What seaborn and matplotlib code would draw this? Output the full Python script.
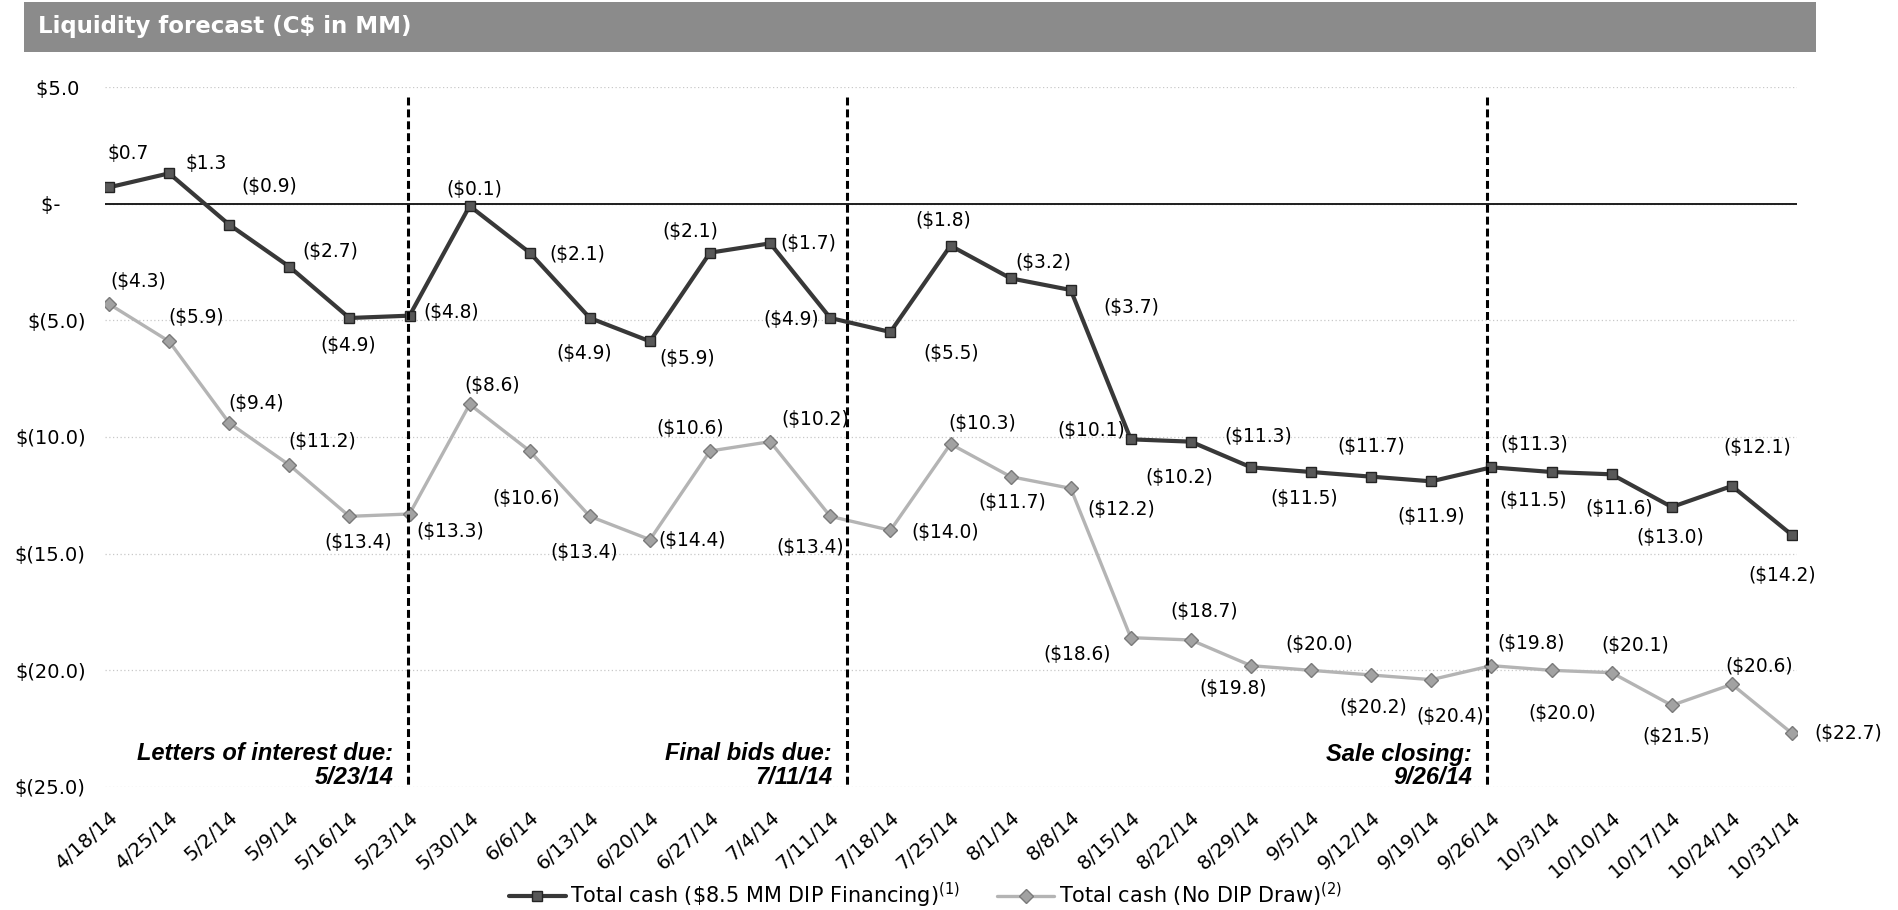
import matplotlib
matplotlib.use("Agg")
import numpy as np
import pandas as pd
import matplotlib.pyplot as plt
import seaborn as sns
from matplotlib.patches import Rectangle

# ---- data -------------------------------------------------------------
weeks = ["4/18/14", "4/25/14", "5/2/14", "5/9/14", "5/16/14", "5/23/14",
         "5/30/14", "6/6/14", "6/13/14", "6/20/14", "6/27/14", "7/4/14",
         "7/11/14", "7/18/14", "7/25/14", "8/1/14", "8/8/14", "8/15/14",
         "8/22/14", "8/29/14", "9/5/14", "9/12/14", "9/19/14", "9/26/14",
         "10/3/14", "10/10/14", "10/17/14", "10/24/14", "10/31/14"]

dip_cash = [0.7, 1.3, -0.9, -2.7, -4.9, -4.8, -0.1, -2.1, -4.9, -5.9,
            -2.1, -1.7, -4.9, -5.5, -1.8, -3.2, -3.7, -10.1, -10.2, -11.3,
            -11.5, -11.7, -11.9, -11.3, -11.5, -11.6, -13.0, -12.1, -14.2]

no_dip_cash = [-4.3, -5.9, -9.4, -11.2, -13.4, -13.3, -8.6, -10.6, -13.4,
               -14.4, -10.6, -10.2, -13.4, -14.0, -10.3, -11.7, -12.2,
               -18.6, -18.7, -19.8, -20.0, -20.2, -20.4, -19.8, -20.0,
               -20.1, -21.5, -20.6, -22.7]

y_ticks = [5, 0, -5, -10, -15, -20, -25]
y_tick_labels = ["$5.0 ", "$-    ", "$(5.0)", "$(10.0)", "$(15.0)",
                 "$(20.0)", "$(25.0)"]

milestone_text = ["Letters of interest due:\n5/23/14",
                  "Final bids due:\n7/11/14",
                  "Sale closing:\n9/26/14"]
milestone_x = [4.98, 12.28, 22.93]

series_names = ["Total cash (\\$8.5 MM DIP Financing)$^{(1)}$",
                "Total cash (No DIP Draw)$^{(2)}$"]

# value-label offsets in pixels (right, down) from each point
dip_offsets = [(19, -34), (37, -10), (40, -38), (41, -15), (-1, 27),
               (42, -3), (5, -17), (48, 2), (-6, 36), (37, 17),
               (-20, -21), (38, 0), (-39, 2), (61, 21), (-7, -25),
               (33, -16), (61, 18), (-40, -9), (-12, 36), (7, -31),
               (-7, 27), (0, -30), (0, 35), (43, -23), (-18, 29),
               (7, 34), (-2, 30), (25, -38), (-10, 40)]
no_dip_offsets = [(29, -22), (27, -24), (27, -20), (33, -23), (9, 26),
                  (41, 18), (23, -19), (-4, 48), (-6, 36), (42, 1),
                  (-20, -22), (45, -22), (-20, 31), (55, 2), (32, -20),
                  (2, 26), (51, 21), (-54, 17), (13, -28), (-18, 23),
                  (8, -26), (2, 32), (19, 37), (40, -22), (11, 43),
                  (24, -27), (4, 31), (27, -18), (56, 0)]


def money(v):
    return f"${v:.1f}" if v >= 0 else f"(${-v:.1f})"


# ---- style ------------------------------------------------------------
sns.set_theme(style="white")
plt.rcParams["font.family"] = ["DejaVu Sans"]
plt.rcParams["text.color"] = "black"

W, H = 1899, 910
fig = plt.figure(figsize=(W / 100, H / 100), dpi=100)
fig.patch.set_facecolor("white")
ax = fig.add_axes([105 / W, 1 - 787 / H, (1797 - 105) / W, (787 - 87) / H])
ax.set_facecolor("white")

df = pd.DataFrame({"week": np.arange(len(weeks)),
                   "dip": dip_cash, "nodip": no_dip_cash})

sns.lineplot(data=df, x="week", y="nodip", ax=ax, color="#b4b4b4",
             linewidth=2.4, marker="D", markersize=7.4,
             markerfacecolor="#a2a2a2", markeredgecolor="#7a7a7a",
             markeredgewidth=1.0, label=series_names[1], zorder=3)
sns.lineplot(data=df, x="week", y="dip", ax=ax, color="#383838",
             linewidth=3.0, marker="s", markersize=7.4,
             markerfacecolor="#585858", markeredgecolor="#242424",
             markeredgewidth=1.0, label=series_names[0], zorder=4)

ax.set_xlim(-0.0665, 28.083)
ax.set_ylim(-25, 5)
ax.set_xlabel("")
ax.set_ylabel("")

ax.set_xticks(np.arange(len(weeks)))
ax.set_xticklabels(weeks, rotation=42, ha="right", rotation_mode="anchor",
                   fontsize=14.3)
ax.set_yticks(y_ticks)
ax.set_yticklabels(y_tick_labels, fontsize=14)
ax.tick_params(axis="x", length=0, pad=15, colors="black")
ax.tick_params(axis="y", length=0, pad=14, colors="black")
for s in ax.spines.values():
    s.set_visible(False)

ax.grid(False)
ax.grid(axis="y", linestyle=(0, (1, 2)), color="#c8c8c8", linewidth=0.9)
ax.axhline(0, color="#1e1e1e", linewidth=1.4, zorder=2)

# milestone markers
for x, txt in zip(milestone_x, milestone_text):
    ax.plot([x, x], [4.55, -25], color="black", linewidth=2.2,
            dashes=(2.6, 1.3), zorder=5)
    ax.text(x - 0.25, -24.85, txt, ha="right", va="baseline",
            fontsize=17, fontweight="bold", style="italic",
            family="Liberation Sans", linespacing=1.0, zorder=6)

# value labels
for i, v in enumerate(dip_cash):
    dx, dy = dip_offsets[i]
    ax.annotate(money(v), (i, v), xytext=(dx, -dy),
                textcoords="offset pixels", ha="center", va="center",
                fontsize=13.4, zorder=7)
for i, v in enumerate(no_dip_cash):
    dx, dy = no_dip_offsets[i]
    ax.annotate(money(v), (i, v), xytext=(dx, -dy),
                textcoords="offset pixels", ha="center", va="center",
                fontsize=13.4, zorder=7)

# header band
fig.add_artist(Rectangle((24 / W, 1 - 52 / H), (1816 - 24) / W, 50 / H,
                         transform=fig.transFigure, facecolor="#8b8b8b",
                         edgecolor="none", zorder=0))
fig.text(38 / W, 1 - 27 / H, "Liquidity forecast (C$ in MM)", color="white",
         fontsize=16.5, fontweight="bold", ha="left", va="center")

# legend below the chart
handles, labels = ax.get_legend_handles_labels()
order = [labels.index(n) for n in series_names]
ax.get_legend().remove()
fig.legend([handles[k] for k in order], [labels[k] for k in order],
           loc="center", bbox_to_anchor=(925 / W, 1 - 895 / H), ncol=2,
           frameon=False, fontsize=15, handlelength=2.74,
           handletextpad=0.2, columnspacing=1.8)

fig.savefig("out.png", dpi=100)
